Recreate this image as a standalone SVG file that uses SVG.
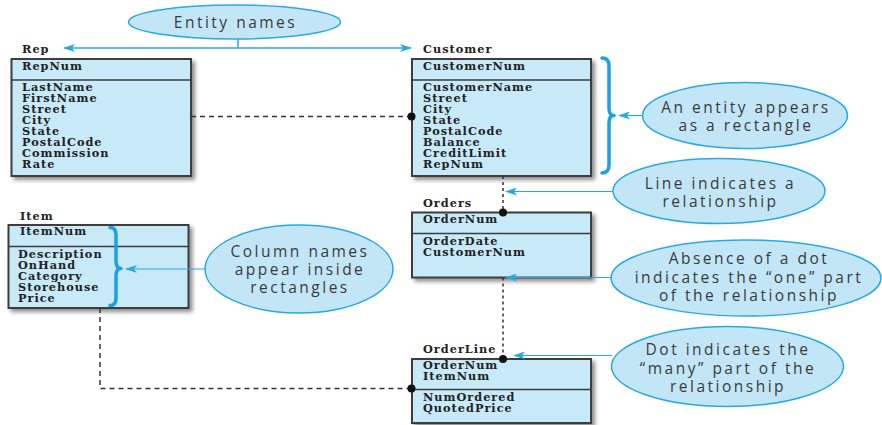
<svg xmlns="http://www.w3.org/2000/svg" width="882" height="425" viewBox="0 0 882 425">
  <defs>
    <filter id="shadow" x="-10%" y="-10%" width="125%" height="130%">
      <feDropShadow dx="3" dy="3" stdDeviation="2" flood-color="#000" flood-opacity="0.45"/>
    </filter>
    <marker id="arrow" viewBox="0 0 12 8" refX="11" refY="4" markerWidth="12" markerHeight="8" markerUnits="userSpaceOnUse" orient="auto-start-reverse">
      <path d="M0,0 L12,4 L0,8 L3,4 z" fill="#29a9e0"/>
    </marker>
    <style>
      .box { fill: #c8e9f8; stroke: #3c3c3c; stroke-width: 2; filter: url(#shadow); }
      .div { stroke: #3c3c3c; stroke-width: 1.5; }
      .fld { font-family: "DejaVu Serif", "Liberation Serif", serif; font-weight: bold; font-size: 11.3px; letter-spacing: 1px; fill: #222; }
      .bubble { fill: #c3e6f7; stroke: #29a9e0; stroke-width: 1.5; }
      .note { font-family: "Open Sans", "DejaVu Sans", sans-serif; font-size: 15.5px; fill: #3a3a3a; letter-spacing: 2.5px; text-anchor: middle; }
      .callout { stroke: #29a9e0; stroke-width: 1.2; fill: none; marker-end: url(#arrow); }
      .brace { stroke: #1ba1e2; stroke-width: 3.5; fill: none; stroke-linecap: round; stroke-linejoin: round; }
      .rel { stroke: #333; stroke-width: 1.5; fill: none; stroke-dasharray: 5 4; }
      .relv { stroke: #333; stroke-width: 1.5; fill: none; stroke-dasharray: 3 3; }
      .dot { fill: #111; }
    </style>
  </defs>

  <!-- Rep table -->
  <g id="rep">
    <text class="fld" x="22" y="52.5">Rep</text>
    <rect class="box" x="11.5" y="59" width="179.5" height="117"/>
    <line class="div" x1="11.5" y1="80" x2="191" y2="80"/>
    <text class="fld" x="22" y="69.5">RepNum</text>
    <text class="fld" x="22" y="91">LastName</text>
    <text class="fld" x="22" y="102">FirstName</text>
    <text class="fld" x="22" y="113">Street</text>
    <text class="fld" x="22" y="124">City</text>
    <text class="fld" x="22" y="135">State</text>
    <text class="fld" x="22" y="146">PostalCode</text>
    <text class="fld" x="22" y="157">Commission</text>
    <text class="fld" x="22" y="168">Rate</text>
  </g>

  <!-- Customer table -->
  <g id="customer">
    <text class="fld" x="423" y="52.5">Customer</text>
    <rect class="box" x="412" y="59" width="179" height="117"/>
    <line class="div" x1="412" y1="80" x2="591" y2="80"/>
    <text class="fld" x="423" y="69.5">CustomerNum</text>
    <text class="fld" x="423" y="91">CustomerName</text>
    <text class="fld" x="423" y="102">Street</text>
    <text class="fld" x="423" y="113">City</text>
    <text class="fld" x="423" y="124">State</text>
    <text class="fld" x="423" y="135">PostalCode</text>
    <text class="fld" x="423" y="146">Balance</text>
    <text class="fld" x="423" y="157">CreditLimit</text>
    <text class="fld" x="423" y="168">RepNum</text>
  </g>

  <!-- Item table -->
  <g id="item">
    <text class="fld" x="20" y="219.5">Item</text>
    <rect class="box" x="8.5" y="225" width="180" height="83"/>
    <line class="div" x1="8.5" y1="246.5" x2="188.5" y2="246.5"/>
    <text class="fld" x="20" y="235">ItemNum</text>
    <text class="fld" x="18" y="258">Description</text>
    <text class="fld" x="18" y="269">OnHand</text>
    <text class="fld" x="18" y="280">Category</text>
    <text class="fld" x="18" y="291">Storehouse</text>
    <text class="fld" x="18" y="302">Price</text>
  </g>

  <!-- Orders table -->
  <g id="orders">
    <text class="fld" x="423" y="207">Orders</text>
    <rect class="box" x="412" y="212.5" width="179" height="65"/>
    <line class="div" x1="412" y1="233.5" x2="591" y2="233.5"/>
    <text class="fld" x="423" y="222.5">OrderNum</text>
    <text class="fld" x="423" y="244.5">OrderDate</text>
    <text class="fld" x="423" y="255.5">CustomerNum</text>
  </g>

  <!-- OrderLine table -->
  <g id="orderline">
    <text class="fld" x="423" y="352.5">OrderLine</text>
    <rect class="box" x="412" y="359" width="179" height="64"/>
    <line class="div" x1="412" y1="389.5" x2="591" y2="389.5"/>
    <text class="fld" x="423" y="368.5">OrderNum</text>
    <text class="fld" x="423" y="379.5">ItemNum</text>
    <text class="fld" x="423" y="401">NumOrdered</text>
    <text class="fld" x="423" y="412">QuotedPrice</text>
  </g>

  <!-- Annotation bubbles -->
  <g id="note-entity-names">
    <ellipse class="bubble" cx="234.5" cy="22" rx="106" ry="17"/>
    <text class="note" x="235.5" y="27.5">Entity names</text>
  </g>
  <g id="note-rectangle">
    <ellipse class="bubble" cx="745" cy="115.5" rx="102.5" ry="33"/>
    <text class="note" x="746" y="113">An entity appears</text>
    <text class="note" x="746" y="131">as a rectangle</text>
  </g>
  <g id="note-line">
    <ellipse class="bubble" cx="719" cy="191" rx="106" ry="32.5"/>
    <text class="note" x="720.5" y="188.5">Line indicates a</text>
    <text class="note" x="720.5" y="206.5">relationship</text>
  </g>
  <g id="note-columns">
    <ellipse class="bubble" cx="299" cy="269" rx="94" ry="44"/>
    <text class="note" x="300" y="256.5">Column names</text>
    <text class="note" x="300" y="275">appear inside</text>
    <text class="note" x="300" y="293">rectangles</text>
  </g>
  <g id="note-one">
    <ellipse class="bubble" cx="746" cy="278" rx="135" ry="38"/>
    <text class="note" x="749" y="264">Absence of a dot</text>
    <text class="note" x="749" y="282.5">indicates the “one” part</text>
    <text class="note" x="749" y="300.5">of the relationship</text>
  </g>
  <g id="note-many">
    <ellipse class="bubble" cx="727.5" cy="366.5" rx="116" ry="40"/>
    <text class="note" x="728" y="355">Dot indicates the</text>
    <text class="note" x="728" y="373.5">“many” part of the</text>
    <text class="note" x="728" y="391.5">relationship</text>
  </g>

  <!-- Braces grouping columns -->
  <g id="braces">
    <path class="brace" d="M602,58 Q609,58 609,66 L609,108 Q609,115.5 614,115.5 Q609,115.5 609,123 L609,165 Q609,173 602,173"/>
    <path class="brace" d="M110,227.5 Q116,227.5 116,235 L116,261 Q116,268.5 121,268.5 Q116,268.5 116,276 L116,298 Q116,305.5 110,305.5"/>
  </g>

  <!-- Connectors -->
  <g id="connectors">
    <!-- relationships between tables -->
    <line class="rel" x1="191" y1="116.5" x2="411" y2="116.5"/>
    <circle class="dot" cx="411.5" cy="116.5" r="4"/>
    <line class="relv" x1="503" y1="176" x2="503" y2="212.5"/>
    <circle class="dot" cx="503" cy="212.5" r="4"/>
    <line class="relv" x1="503" y1="277.5" x2="503" y2="359"/>
    <circle class="dot" cx="503" cy="359" r="4"/>
    <polyline class="rel" points="100,308 100,388.5 411,388.5"/>
    <circle class="dot" cx="411.5" cy="388.5" r="4"/>

    <!-- callout arrows -->
    <line x1="238" y1="39" x2="238" y2="48" stroke="#29a9e0" stroke-width="1.5"/>
    <line x1="64" y1="48" x2="411" y2="48" stroke="#29a9e0" stroke-width="1.5" marker-start="url(#arrow)" marker-end="url(#arrow)"/>
    <line class="callout" x1="642.5" y1="115.5" x2="619" y2="115.5"/>
    <line class="callout" x1="613" y1="191.5" x2="506" y2="191.5"/>
    <line class="callout" x1="611" y1="277.5" x2="506" y2="277.5"/>
    <line class="callout" x1="612" y1="355.5" x2="514" y2="355.5"/>
    <line class="callout" x1="205" y1="269" x2="126" y2="269"/>
  </g>
</svg>
